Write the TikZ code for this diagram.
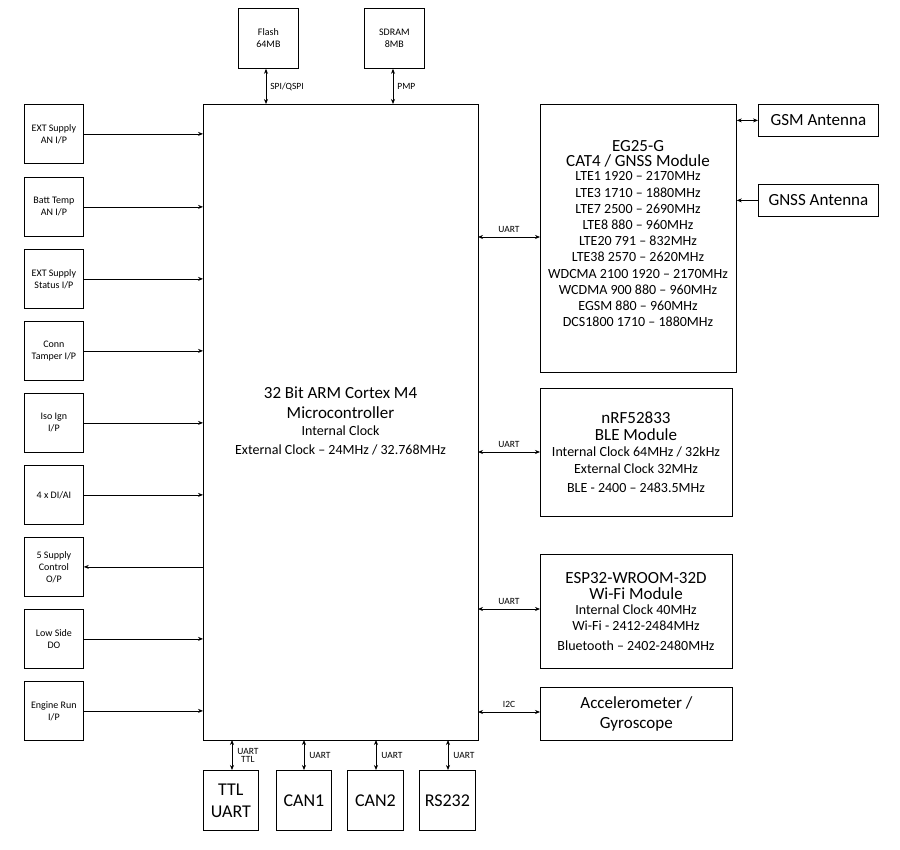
\documentclass[tikz,border=0pt]{standalone}
\usepackage{fontspec}
\setmainfont{Carlito}
\usetikzlibrary{arrows.meta}
\begin{document}
\begin{tikzpicture}[x=1pt,y=-1pt,
 box/.style={draw,line width=0.8pt,inner sep=0pt,align=center},
 conn/.style={line width=0.7pt,-{Stealth[length=5pt,width=4pt]}},
 bi/.style={line width=0.7pt,{Stealth[length=5pt,width=4pt]}-{Stealth[length=5pt,width=4pt]}},
 lab/.style={font=\fontsize{9.5}{10}\selectfont,align=center,inner sep=1pt},
 sm/.style={font=\fontsize{10}{12}\selectfont},
 lg/.style={font=\fontsize{17}{20}\selectfont}]
\newcommand\tl[1]{{\fontsize{17}{20}\selectfont #1}}
\useasboundingbox (0,0) rectangle (900,850);
\node[box,minimum width=275,minimum height=636,anchor=north west] (mcu) at (203,104) {};
\node[align=center,font=\fontsize{14}{19}\selectfont] (mcut) at (340.5,421) {\tl{32 Bit ARM Cortex M4}\\[1pt]\tl{Microcontroller}\\[-2pt]Internal Clock\\External Clock -- 24MHz / 32.768MHz};
% left
\foreach \n/\y/\t in {l1/104/{EXT Supply\\AN I/P}, l2/177/{Batt Temp\\AN I/P}, l3/249/{EXT Supply\\Status I/P}, l4/321/{Conn\\Tamper I/P}, l5/393/{Iso Ign\\I/P}, l6/465/{4 x DI/AI}, l7/537/{5 Supply\\Control\\O/P}, l8/609/{Low Side\\DO}, l9/681/{Engine Run\\I/P}}{
 \node[box,sm,minimum width=59,minimum height=59,anchor=north west] (\n) at (24,\y) {\t};
}
\foreach \n in {l1,l2,l3,l4,l5,l6,l8,l9}{\draw[conn] (\n.east) -- (\n.east -| mcu.west);}
\draw[conn] (l7.east -| mcu.west) -- (l7.east);
% top
\node[box,sm,minimum width=60,minimum height=60,anchor=north west] (flash) at (238,8) {Flash\\64MB};
\node[box,sm,minimum width=60,minimum height=60,anchor=north west] (sdram) at (364,8) {SDRAM\\8MB};
\draw[bi] (flash.south -| 266,0) -- (266,104) node[lab,midway,right=3pt] {SPI/QSPI};
\draw[bi] (sdram.south -| 393,0) -- (393,104) node[lab,midway,right=3pt] {PMP};
% right
\node[box,minimum width=196,minimum height=268,anchor=north west] (eg) at (540,104) {};
\node[align=center,anchor=north,font=\fontsize{14}{16.2}\selectfont] (egt) at (638,137) {\tl{EG25-G}\\[-1pt]\tl{CAT4 / GNSS Module}\\[-2pt]
LTE1 1920 -- 2170MHz\\LTE3 1710 -- 1880MHz\\LTE7 2500 -- 2690MHz\\LTE8 880 -- 960MHz\\LTE20 791 -- 832MHz\\LTE38 2570 -- 2620MHz\\WDCMA 2100 1920 -- 2170MHz\\WCDMA 900 880 -- 960MHz\\EGSM 880 -- 960MHz\\DCS1800 1710 -- 1880MHz};
\node[box,lg,minimum width=120,minimum height=32,anchor=north west] (gsm) at (758,104) {GSM Antenna};
\node[box,lg,minimum width=120,minimum height=32,anchor=north west] (gnss) at (758,184) {GNSS Antenna};
\draw[bi] (gsm.west) -- (gsm.west -| eg.east);
\draw[conn] (gnss.west) -- (gnss.west -| eg.east);
\draw[bi] (478,237) -- (540,237) node[lab,midway,above=3pt] {UART};
\node[box,minimum width=192,minimum height=128,anchor=north west] (nrf) at (540,388) {};
\node[align=center,font=\fontsize{14}{18}\selectfont] (nrft) at (636,452) {\tl{nRF52833}\\[-1pt]\tl{BLE Module}\\[-2pt]Internal Clock 64MHz / 32kHz\\[-1pt]External Clock 32MHz\\[1pt]BLE - 2400 -- 2483.5MHz};
\draw[bi] (478,452) -- (540,452) node[lab,midway,above=3pt] {UART};
\node[box,minimum width=192,minimum height=114,anchor=north west] (esp) at (540,554) {};
\node[align=center,font=\fontsize{14}{17}\selectfont] (espt) at (636,612) {\tl{ESP32-WROOM-32D}\\[-1pt]\tl{Wi-Fi Module}\\[-2pt]Internal Clock 40MHz\\[-1pt]Wi-Fi - 2412-2484MHz\\[3pt]Bluetooth -- 2402-2480MHz};
\draw[bi] (478,609) -- (540,609) node[lab,midway,above=3pt] {UART};
\node[box,lg,minimum width=192,minimum height=53,anchor=north west] (acc) at (540,687) {Accelerometer /\\Gyroscope};
\draw[bi] (478,712) -- (540,712) node[lab,midway,above=3pt] {I2C};
% bottom
\node[box,font=\fontsize{18}{22}\selectfont,minimum width=55,minimum height=60,anchor=north west] (ttl) at (203,770) {TTL\\UART};
\node[box,font=\fontsize{18}{22}\selectfont,minimum width=55,minimum height=60,anchor=north west] (can1) at (276,770) {CAN1};
\node[box,font=\fontsize{18}{22}\selectfont,minimum width=56,minimum height=60,anchor=north west] (can2) at (347,770) {CAN2};
\node[box,font=\fontsize{18}{22}\selectfont,minimum width=56,minimum height=60,anchor=north west] (rs) at (419,770) {RS232};
\draw[bi] (232,740) -- (232,770) node[lab,midway,right=4pt] {UART\\[-2pt]TTL};
\draw[bi] (304,740) -- (304,770) node[lab,midway,right=4pt] {UART};
\draw[bi] (376,740) -- (376,770) node[lab,midway,right=4pt] {UART};
\draw[bi] (448,740) -- (448,770) node[lab,midway,right=4pt] {UART};
\end{tikzpicture}
\end{document}
